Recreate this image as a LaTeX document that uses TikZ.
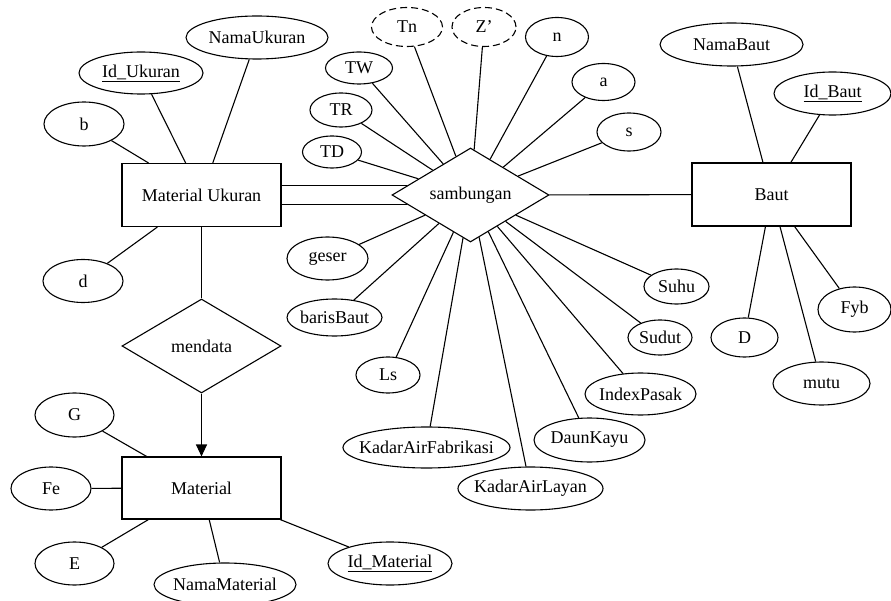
\documentclass[tikz,border=0pt]{standalone}
\usepackage{fontspec}
\setmainfont{Liberation Serif}
\usetikzlibrary{shapes.geometric,arrows.meta,calc}
\newcommand\mb[1]{\makebox[0pt]{#1}}
\begin{document}
\begin{tikzpicture}[x=1pt,y=-1pt,line width=1.1pt,
  every node/.style={font=\fontsize{18}{20}\selectfont},
  ent/.style={draw, rectangle, minimum width=159pt, minimum height=63pt, inner sep=0pt},
  attr/.style={draw, ellipse, inner sep=0pt, minimum height=43pt},
  rel/.style={draw, diamond, aspect=2, inner sep=0pt, minimum width=157pt, minimum height=94pt},
  weak/.style={dashed, dash pattern=on 7pt off 4pt}
]
\useasboundingbox (0,0) rectangle (891,601);
% entities and relations
\node[ent] (mu) at (201.5,195) {Material Ukuran};
\node[ent] (baut) at (771.5,194.5) {Baut};
\node[ent, minimum height=62pt] (mat) at (201.5,488) {Material};
\node[rel] (samb) at (470.5,195) {sambungan};
\node[rel, minimum width=159pt] (mend) at (201.5,346) {mendata};
% attributes of Material Ukuran
\node[attr, minimum width=142pt] (nu) at (257,37.5) {\mb{NamaUkuran}};
\node[attr, minimum width=124pt, minimum height=42pt] (idu) at (141,73) {\mb{\underline{Id\_Ukuran}}};
\node[attr, minimum width=80pt, minimum height=44pt] (b) at (84,124) {\mb{b}};
\node[attr, minimum width=80pt] (d) at (83,281) {\mb{d}};
% attributes of sambungan
\node[attr, minimum width=67pt, minimum height=32pt] (tw) at (359,68) {\mb{TW}};
\node[attr, minimum width=62pt, minimum height=34pt] (tr) at (341,110) {\mb{TR}};
\node[attr, minimum width=59pt, minimum height=32pt] (td) at (332,152) {\mb{TD}};
\node[attr, weak, minimum width=71pt, minimum height=39pt] (tn) at (407,27) {\mb{Tn}};
\node[attr, weak, minimum width=64pt, minimum height=39pt] (z) at (484,27) {\mb{Z’}};
\node[attr, minimum width=63pt, minimum height=39pt] (n) at (557,37) {\mb{n}};
\node[attr, minimum width=63pt, minimum height=37pt] (a) at (603.5,82) {\mb{a}};
\node[attr, minimum width=64pt, minimum height=38pt] (s) at (629,132) {\mb{s}};
\node[attr, minimum width=81pt] (geser) at (327.5,258.5) {\mb{geser}};
\node[attr, minimum width=95pt, minimum height=37pt] (bb) at (334.5,317.5) {\mb{barisBaut}};
\node[attr, minimum width=64pt, minimum height=36pt] (ls) at (388,375) {\mb{Ls}};
\node[attr, minimum width=167pt, minimum height=41pt] (kaf) at (426.5,447.5) {\mb{KadarAirFabrikasi}};
\node[attr, minimum width=145pt] (kal) at (530.5,488.5) {\mb{KadarAirLayan}};
\node[attr, minimum width=111pt, minimum height=44pt] (dk) at (589.5,440) {\mb{DaunKayu}};
\node[attr, minimum width=111pt, minimum height=42pt] (ip) at (640.5,394) {\mb{IndexPasak}};
\node[attr, minimum width=64pt, minimum height=35pt] (sudut) at (660,337.5) {\mb{Sudut}};
\node[attr, minimum width=65pt, minimum height=35pt] (suhu) at (676.5,286.5) {\mb{Suhu}};
% attributes of Baut
\node[attr, minimum width=143pt] (nb) at (731.5,44.5) {\mb{NamaBaut}};
\node[attr, minimum width=117pt] (idb) at (832.5,93.5) {\mb{\underline{Id\_Baut}}};
\node[attr, minimum width=67pt, minimum height=39pt] (dd) at (744.5,337.5) {\mb{D}};
\node[attr, minimum width=97pt] (mutu) at (821.5,383.5) {\mb{mutu}};
\node[attr, minimum width=73pt, minimum height=45pt] (fyb) at (854.5,309.5) {\mb{Fyb}};
% attributes of Material
\node[attr, minimum width=79pt, minimum height=44pt] (g) at (74.5,415) {\mb{G}};
\node[attr, minimum width=80pt] (fe) at (51,488.5) {\mb{Fe}};
\node[attr, minimum width=79pt] (e) at (74.5,563.5) {\mb{E}};
\node[attr, minimum width=142pt] (nm) at (225,584.5) {\mb{NamaMaterial}};
\node[attr, minimum width=124pt] (idm) at (390,563.5) {\mb{\underline{Id\_Material}}};
% connectors
\foreach \x in {nu,idu,b,d} \draw (mu) -- (\x);
\foreach \x in {tw,tr,td,tn,z,n,a,s,geser,bb,ls,kaf,kal,dk,ip,sudut,suhu} \draw (samb) -- (\x);
\foreach \x in {nb,idb,dd,mutu,fyb} \draw (baut) -- (\x);
\foreach \x in {g,fe,e,nm,idm} \draw (mat) -- (\x);
\draw (samb) -- (baut);
\draw ($(mu.east)+(0,-9.5)$) -- ($(samb.west)+(15.9,-9.5)$);
\draw ($(mu.east)+(0,9.5)$) -- ($(samb.west)+(15.9,9.5)$);
\draw (mu) -- (mend);
\draw[-{Triangle[length=12pt,width=11pt]}] (mend) -- (mat);
\end{tikzpicture}
\end{document}
